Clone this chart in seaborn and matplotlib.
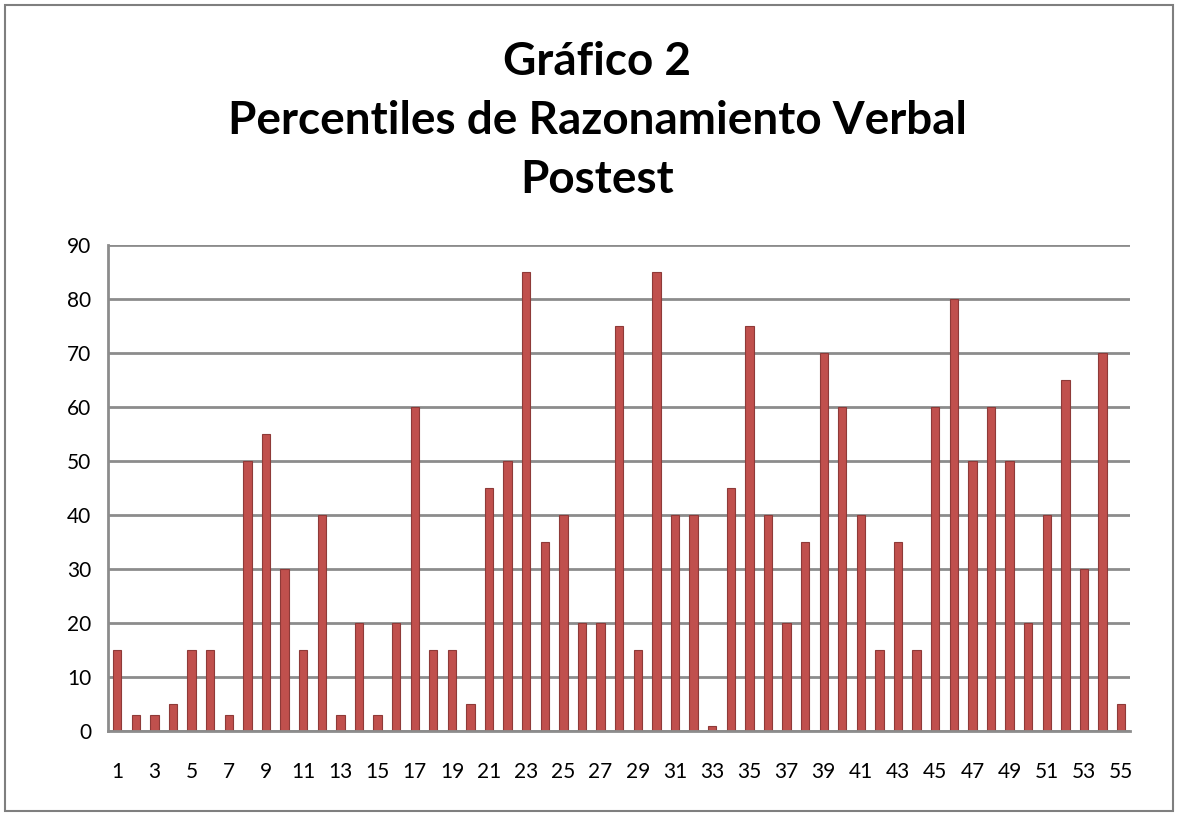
# Gráfico 2 - Percentiles de Razonamiento Verbal (Postest)

import pandas as pd
import matplotlib.pyplot as plt
import seaborn as sns
from matplotlib.patches import Rectangle

# Data
students = list(range(1, 56))
percentiles = [15, 3, 3, 5, 15, 15, 3, 50, 55, 30,
               15, 40, 3, 20, 3, 20, 60, 15, 15, 5,
               45, 50, 85, 35, 40, 20, 20, 75, 15, 85,
               40, 40, 1, 45, 75, 40, 20, 35, 70, 60,
               40, 15, 35, 15, 60, 80, 50, 60, 50, 20,
               40, 65, 30, 70, 5]
y_ticks = list(range(0, 100, 10))

df = pd.DataFrame({"alumno": [str(s) for s in students], "percentil": percentiles})

sns.set_style("white")
plt.rcParams["font.family"] = ["Lato", "DejaVu Sans"]

fig = plt.figure(figsize=(11.8, 8.16), dpi=100)
ax = fig.add_axes([0.0915, 0.104, 0.8665, 0.596])

sns.barplot(data=df, x="alumno", y="percentil", order=df["alumno"],
            color="#C0504D", saturation=1, width=0.45,
            edgecolor="#8E3A38", linewidth=0.8, ax=ax)

ax.set_ylim(0, 90)
ax.set_xlim(-0.5, len(students) - 0.5)
ax.set_yticks(y_ticks)
ax.set_yticklabels([str(v) for v in y_ticks], fontsize=15, color="black")

major = list(range(0, len(students), 2))
ax.set_xticks(major)
ax.set_xticklabels([str(students[i]) for i in major], fontsize=15, color="black")
ax.set_xticks([i - 0.5 for i in range(len(students) + 1)], minor=True)
ax.tick_params(axis="x", which="major", length=0, pad=22)
ax.tick_params(axis="x", which="minor", length=6, width=1.5, color="#888888")
ax.tick_params(axis="y", length=0, pad=12)

ax.set_xlabel("")
ax.set_ylabel("")
ax.yaxis.grid(True, color="#8C8C8C", linewidth=2)
ax.set_axisbelow(True)
for side in ["top", "right"]:
    ax.spines[side].set_visible(False)
for side in ["left", "bottom"]:
    ax.spines[side].set_color("#8C8C8C")
    ax.spines[side].set_linewidth(2)

fig.text(0.506, 0.754, "Gráfico 2\nPercentiles de Razonamiento Verbal\nPostest",
         ha="center", va="bottom", fontsize=33, fontweight="bold",
         color="black", linespacing=1.5)

fig.patches.append(Rectangle((0.004, 0.006), 0.99, 0.988, transform=fig.transFigure,
                             fill=False, edgecolor="#7F7F7F", linewidth=1.5))

plt.savefig("out.png", dpi=100)
